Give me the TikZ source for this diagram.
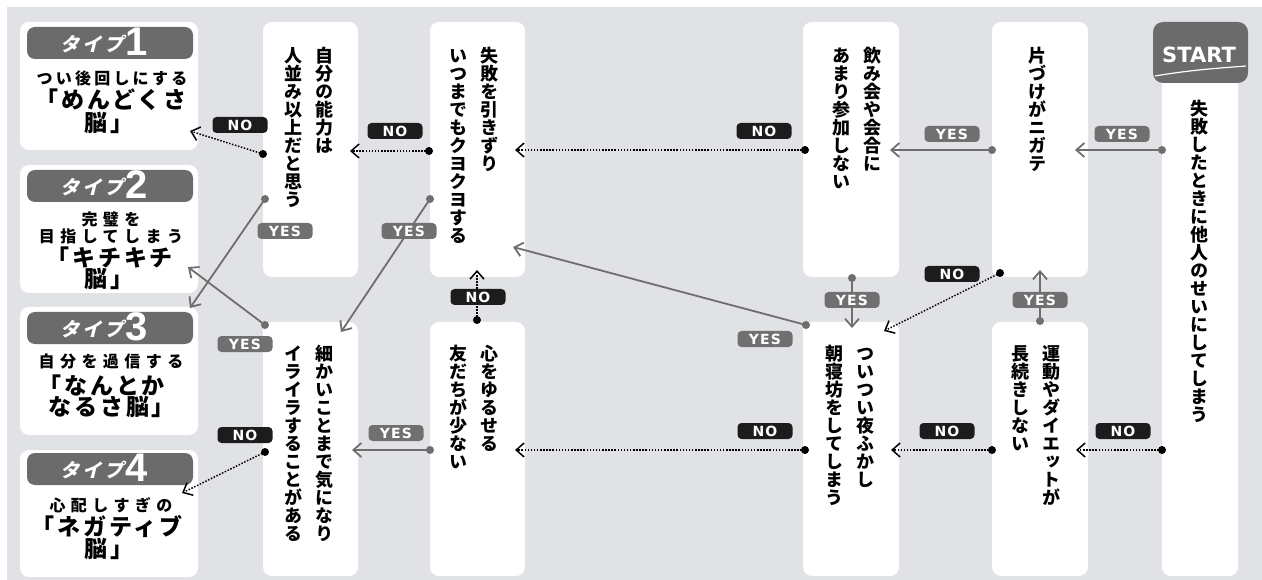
\documentclass[tikz,border=0pt]{standalone}
\usepackage{fontspec}
\usetikzlibrary{arrows.meta}
\newfontfamily\jp{Noto Sans CJK JP}
\newfontfamily\jpv[RawFeature=+vert]{Noto Sans CJK JP}
\newfontfamily\jpsub[LetterSpace=34]{Noto Sans CJK JP}
\newfontfamily\jpsubb[LetterSpace=20]{Noto Sans CJK JP}
\newfontfamily\jpbig[LetterSpace=12]{Noto Sans CJK JP}
\newfontfamily\jpsl[FakeSlant=0.25,LetterSpace=15]{Noto Sans CJK JP}
\newfontfamily\labfont[LetterSpace=8]{DejaVu Sans}
\newfontfamily\numfont{Liberation Sans}
\newfontfamily\startfont{DejaVu Sans}
\definecolor{bggray}{HTML}{E1E2E6}
\definecolor{tabgray}{HTML}{6B6B6B}
\definecolor{yesgray}{HTML}{707070}
\definecolor{linegray}{HTML}{6E6E6E}
\definecolor{nob}{HTML}{1C1C1C}
\makeatletter
\newcommand\vcol[1]{\vtop{\offinterlineskip\@tfor\vc@ch:=#1\do{\hbox to1em{\vrule height.88em depth.12em width0pt\hss\vc@ch\hss}}}}
\newcommand\vtwo[2]{\hbox{\vcol{#2}\hskip13pt\vcol{#1}}}
\makeatother
\begin{document}
\begin{tikzpicture}[x=1pt,y=-1pt,
  colbox/.style={fill=white, rounded corners=9pt, inner sep=0pt, minimum width=95, minimum height=255},
  typebox/.style={fill=white, rounded corners=9pt, inner sep=0pt, minimum width=178, minimum height=128},
  typetab/.style={fill=tabgray, rounded corners=8pt, inner sep=0pt, minimum width=166, minimum height=32},
  vq/.style={inner sep=0pt, anchor=north, text=black, font=\jpv\bfseries\fontsize{18}{18}\selectfont},
  subtxt/.style={inner sep=0pt, text=black, font=\jpsub\bfseries\fontsize{16}{16}\selectfont},
  bigtxt/.style={inner sep=0pt, text=black, font=\jpbig\bfseries\fontsize{23}{23}\selectfont},
  tabtxt/.style={inner sep=0pt, text=white, font=\jpsl\bfseries\fontsize{19}{19}\selectfont},
  tabnum/.style={inner sep=0pt, text=white, anchor=west, font=\numfont\bfseries\fontsize{40}{40}\selectfont},
  labbox/.style={rounded corners=4pt, minimum width=55, minimum height=16, inner sep=0pt, text=white, font=\labfont\bfseries\fontsize{14}{14}\selectfont},
  yeslab/.style={labbox, fill=yesgray},
  nolab/.style={labbox, fill=nob},
  yesline/.style={draw=linegray, line width=1.8pt, -{Straight Barb[length=8pt,width=14pt]}},
  noline/.style={draw=black, line width=1.5pt, dash pattern=on 1.5pt off 1.6pt, -{Straight Barb[length=8pt,width=14pt]}},
  ydot/.style={fill=linegray},
  ndot/.style={fill=black}]
\useasboundingbox (0,0) rectangle (1262,580);
\fill[white] (0,0) rectangle (1262,580);
\fill[bggray] (7,7) rectangle (1262,580);

% type boxes
\node[typebox] (tb1) at (109,86) {};
\node[typebox] (tb2) at (109,229) {};
\node[typebox] (tb3) at (109,371) {};
\node[typebox, minimum height=127] (tb4) at (109,513.5) {};
\node[typetab] (tt1) at (110,43) {};
\node[typetab] (tt2) at (110,186) {};
\node[typetab] (tt3) at (110,328) {};
\node[typetab] (tt4) at (110,469) {};
\node[tabtxt] (ttx1) at (92,44) {タイプ};
\node[tabtxt] (ttx2) at (92,187) {タイプ};
\node[tabtxt] (ttx3) at (92,329) {タイプ};
\node[tabtxt] (ttx4) at (92,470) {タイプ};
\node[tabnum] (tn1) at (125,42) {1};
\node[tabnum] (tn2) at (125,185) {2};
\node[tabnum] (tn3) at (125,327) {3};
\node[tabnum] (tn4) at (125,468) {4};

\node[subtxt, font=\jpsubb\bfseries\fontsize{16}{16}\selectfont] (t1a) at (112,78) {つい後回しにする};
\node[bigtxt] (t1b) at (111,100) {「めんどくさ};
\node[bigtxt] (t1c) at (109,123) {脳」};
\node[subtxt] (t2a) at (111,219) {完璧を};
\node[subtxt] (t2b) at (111,236) {目指してしまう};
\node[bigtxt] (t2c) at (110,257) {「キチキチ};
\node[bigtxt] (t2d) at (109,279) {脳」};
\node[subtxt] (t3a) at (111,361) {自分を過信する};
\node[bigtxt] (t3b) at (102,385) {「なんとか};
\node[bigtxt] (t3c) at (112,407) {なるさ脳」};
\node[subtxt] (t4a) at (111,505) {心配しすぎの};
\node[bigtxt] (t4b) at (107,527) {「ネガティブ};
\node[bigtxt] (t4c) at (109,549) {脳」};

% question columns
\node[colbox] (qa) at (310.5,149.5) {};
\node[colbox] (qb) at (477.5,149.5) {};
\node[colbox, minimum width=96] (qc) at (851,149.5) {};
\node[colbox, minimum width=96] (qd) at (1040,149.5) {};
\node[colbox, minimum height=254] (qa2) at (310.5,449) {};
\node[colbox, minimum height=254] (qb2) at (477.5,449) {};
\node[colbox, minimum width=96, minimum height=254] (qc2) at (851,449) {};
\node[colbox, minimum width=96, minimum height=254] (qd2) at (1040,449) {};
\node[colbox, minimum width=76, minimum height=516] (qe) at (1200,318) {};
\node[fill=tabgray, rounded corners=10pt, inner sep=0pt, minimum width=95, minimum height=61] (st) at (1200.5,52.5) {};
\node[inner sep=0pt, text=white, font=\startfont\bfseries\fontsize{21}{21}\selectfont] (stt) at (1199,55) {START};
\draw[white, line width=1.2pt] (1155,76) .. controls (1190,70) and (1220,68) .. (1246,66);

\node[vq] (xa) at (309,46) {\vtwo{自分の能力は}{人並み以上だと思う}};
\node[vq] (xb) at (474,46) {\vtwo{失敗を引きずり}{いつまでもクヨクヨする}};
\node[vq] (xc) at (857,46) {\vtwo{飲み会や会合に}{あまり参加しない}};
\node[vq] (xd) at (1037,46) {\vcol{片づけがニガテ}};
\node[vq] (xe) at (1199,99) {\vcol{失敗したときに他人のせいにしてしまう}};
\node[vq] (xa2) at (308.5,344) {\vtwo{細かいことまで気になり}{イライラすることがある}};
\node[vq] (xb2) at (474,344) {\vtwo{心をゆるせる}{友だちが少ない}};
\node[vq] (xc2) at (850,344) {\vtwo{ついつい夜ふかし}{朝寝坊をしてしまう}};
\node[vq] (xd2) at (1036,344) {\vtwo{運動やダイエットが}{長続きしない}};

% connector endpoints
\coordinate (s1) at (1162,150); \coordinate (e1) at (1075,150);
\coordinate (s2) at (992,150);  \coordinate (e2) at (890,150);
\coordinate (s3) at (805,150);  \coordinate (e3) at (515,150);
\coordinate (s4) at (429,151);  \coordinate (e4) at (350,151);
\coordinate (s5) at (263,154);  \coordinate (e5) at (190,131);
\coordinate (s6) at (265,199);  \coordinate (e6) at (190,308);
\coordinate (s7) at (430,199);  \coordinate (e7) at (341,332);
\coordinate (s8) at (265,325);  \coordinate (e8) at (188,267);
\coordinate (s9) at (265,452);  \coordinate (e9) at (182,493);
\coordinate (s10) at (430,450); \coordinate (e10) at (352,450);
\coordinate (s11) at (477,320); \coordinate (e11) at (477,270);
\coordinate (s12) at (806,325); \coordinate (e12) at (513,247);
\coordinate (s13) at (805,450); \coordinate (e13) at (515,450);
\coordinate (s14) at (852,278); \coordinate (e14) at (852,328);
\coordinate (s15) at (1000,273); \coordinate (e15) at (884,331);
\coordinate (s16) at (1040,321); \coordinate (e16) at (1040,270);
\coordinate (s17) at (1162,450); \coordinate (e17) at (1076,450);
\coordinate (s18) at (992,450); \coordinate (e18) at (891,450);

\draw[yesline] (s1) -- (e1);
\draw[yesline] (s2) -- (e2);
\draw[noline] (s3) -- (e3);
\draw[noline] (s4) -- (e4);
\draw[noline] (s5) -- (e5);
\draw[yesline] (s6) -- (e6);
\draw[yesline] (s7) -- (e7);
\draw[yesline] (s8) -- (e8);
\draw[noline] (s9) -- (e9);
\draw[yesline] (s10) -- (e10);
\draw[noline] (s11) -- (e11);
\draw[yesline] (s12) -- (e12);
\draw[noline] (s13) -- (e13);
\draw[yesline] (s14) -- (e14);
\draw[noline] (s15) -- (e15);
\draw[yesline] (s16) -- (e16);
\draw[noline] (s17) -- (e17);
\draw[noline] (s18) -- (e18);

\foreach \p in {s1,s2,s6,s7,s8,s10,s12,s14,s16} \fill[ydot] (\p) circle[radius=4pt];
\foreach \p in {s3,s4,s5,s9,s11,s13,s15,s17,s18} \fill[ndot] (\p) circle[radius=4pt];

% labels
\node[yeslab] (y1) at (1122,134) {YES};
\node[yeslab] (y2) at (952,134) {YES};
\node[nolab] (n3) at (764,131) {NO};
\node[nolab] (n4) at (395,131) {NO};
\node[nolab] (n5) at (240,125) {NO};
\node[yeslab] (y6) at (285,231) {YES};
\node[yeslab] (y7) at (409,231) {YES};
\node[yeslab] (y8) at (245,344) {YES};
\node[nolab] (n9) at (245,435) {NO};
\node[yeslab] (y10) at (396,433) {YES};
\node[nolab] (n11) at (478,297) {NO};
\node[yeslab] (y12) at (765,339) {YES};
\node[nolab] (n13) at (765,431) {NO};
\node[yeslab] (y14) at (852,300) {YES};
\node[nolab] (n15) at (952,274) {NO};
\node[yeslab] (y16) at (1040,300) {YES};
\node[nolab] (n17) at (1123,431) {NO};
\node[nolab] (n18) at (947,431) {NO};
\end{tikzpicture}
\end{document}
